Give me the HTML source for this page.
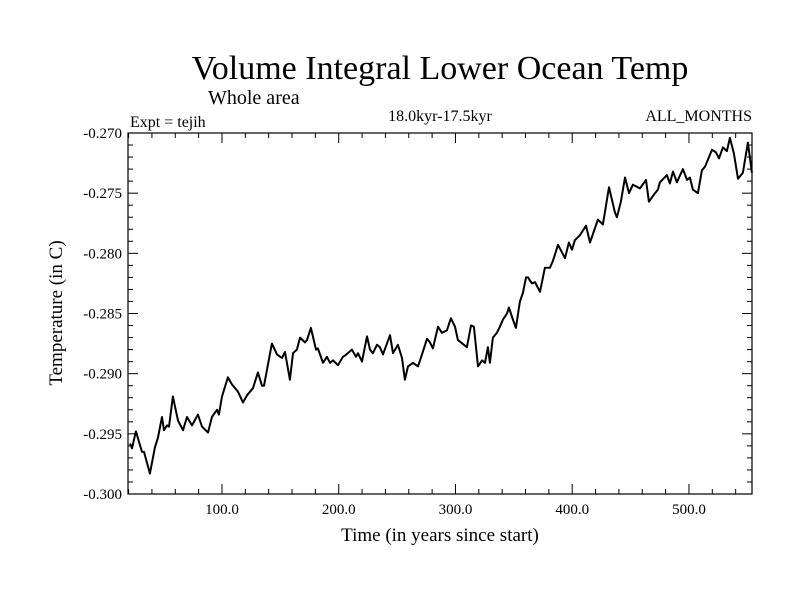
<!DOCTYPE html>
<html><head><meta charset="utf-8"><style>
html,body{margin:0;padding:0;background:#fff}
svg{display:block;font-family:"Liberation Serif",serif}
</style></head><body>
<svg id="chart" width="800" height="600" viewBox="0 0 800 600">
<text x="440" y="79" font-size="34" text-anchor="middle">Volume Integral Lower Ocean Temp</text>
<text x="208" y="104" font-size="20">Whole area</text>
<text x="130" y="127" font-size="16">Expt = tejih</text>
<text x="440" y="121" font-size="16" text-anchor="middle">18.0kyr-17.5kyr</text>
<text x="752" y="121" font-size="16" text-anchor="end">ALL_MONTHS</text>
<text x="440" y="541" font-size="19" text-anchor="middle">Time (in years since start)</text>
<text transform="translate(62,313) rotate(-90)" font-size="19" text-anchor="middle">Temperature (in C)</text>
<g id="axes"></g>
<rect x="128" y="133" width="624" height="361" fill="none" stroke="#000" stroke-width="1.2"/>
</svg>
<script>
const years=[21.2,22.9,26.3,31.5,33.2,38.3,42.6,45.2,48.6,50.3,52.9,54.6,58.0,62.3,66.6,70.0,74.3,79.4,82.9,88.0,91.4,95.7,97.4,100,105.1,108.6,113.7,118.0,121.4,126.6,130.8,134.3,136.0,142.8,147.1,151.4,154.0,158.2,160.8,164.2,166.8,171.1,172.8,176.2,180.5,182.2,186.5,189.9,192.5,195.1,199.4,203.6,205.3,211.3,214.8,216.5,219.9,224.2,226.8,229.3,232.8,235.3,237.9,243.9,246.5,250.7,254.2,256.7,259.3,263.6,267.9,271.3,275.6,278.2,280.7,285.0,288.4,292.7,296.1,299.6,302.1,309.8,313.3,315.8,319.3,322.7,325.3,327.8,329.5,332.1,335.5,338.1,340.7,344.1,345.8,349.2,351.8,355.2,357.8,360.4,362.1,365.5,368.1,372.4,376.6,380.9,383.5,387.8,393.8,397.2,399.8,402.3,406.6,411.8,415.2,422.0,426.3,431.5,436.6,438.3,441.7,445.2,448.6,452.0,458.0,463.2,465.7,470.9,473.4,475.1,481.1,483.7,486.3,489.7,494.8,498.3,500.8,503.4,507.7,511.1,513.7,519.7,523.1,525.7,529.1,532.5,535.1,538.5,542.0,546.2,550.5,553.9];
const temps=[-0.2958,-0.2962,-0.2948,-0.2965,-0.2965,-0.2983,-0.2961,-0.2953,-0.2936,-0.2947,-0.2943,-0.2944,-0.2919,-0.2939,-0.2947,-0.2936,-0.2943,-0.2934,-0.2944,-0.2949,-0.2936,-0.2930,-0.2934,-0.2919,-0.2903,-0.2909,-0.2915,-0.2924,-0.2918,-0.2912,-0.2899,-0.2910,-0.2910,-0.2875,-0.2884,-0.2887,-0.2882,-0.2905,-0.2883,-0.2880,-0.2870,-0.2874,-0.2872,-0.2862,-0.2880,-0.2879,-0.2891,-0.2886,-0.2891,-0.2889,-0.2893,-0.2886,-0.2885,-0.2880,-0.2886,-0.2883,-0.2890,-0.2869,-0.2880,-0.2883,-0.2876,-0.2878,-0.2884,-0.2868,-0.2883,-0.2876,-0.2887,-0.2905,-0.2894,-0.2891,-0.2894,-0.2884,-0.2871,-0.2874,-0.2879,-0.2861,-0.2866,-0.2864,-0.2854,-0.2861,-0.2872,-0.2878,-0.2860,-0.2861,-0.2894,-0.2889,-0.2891,-0.2878,-0.2891,-0.2870,-0.2866,-0.2861,-0.2855,-0.2850,-0.2845,-0.2855,-0.2862,-0.2840,-0.2833,-0.2820,-0.2820,-0.2825,-0.2824,-0.2832,-0.2812,-0.2812,-0.2806,-0.2793,-0.2804,-0.2791,-0.2797,-0.2789,-0.2785,-0.2777,-0.2791,-0.2772,-0.2776,-0.2745,-0.2766,-0.2770,-0.2757,-0.2737,-0.2750,-0.2743,-0.2746,-0.2739,-0.2757,-0.2750,-0.2747,-0.2741,-0.2735,-0.2742,-0.2732,-0.2741,-0.2730,-0.2739,-0.2737,-0.2747,-0.2750,-0.2731,-0.2728,-0.2714,-0.2716,-0.2721,-0.2712,-0.2715,-0.2704,-0.2717,-0.2738,-0.2733,-0.2708,-0.2733];
const xTickLabels=["100.0","200.0","300.0","400.0","500.0"];
const xTickValues=[100,200,300,400,500];
const yTickLabels=["-0.300","-0.295","-0.290","-0.285","-0.280","-0.275","-0.270"];
const yTickValues=[-0.300,-0.295,-0.290,-0.285,-0.280,-0.275,-0.270];

const X0=128,X1=752,Y0=494,Y1=133,XMIN=19.5,XMAX=554,YMIN=-0.300,YMAX=-0.270;
const sx=v=>X0+(v-XMIN)/(XMAX-XMIN)*(X1-X0);
const sy=v=>Y0-(v-YMIN)/(YMAX-YMIN)*(Y0-Y1);
const NS="http://www.w3.org/2000/svg";
const g=document.getElementById('axes');
function ln(x1,y1,x2,y2,name){const l=document.createElementNS(NS,'line');
l.setAttribute('x1',x1);l.setAttribute('y1',y1);l.setAttribute('x2',x2);l.setAttribute('y2',y2);
l.setAttribute('stroke','#000');l.setAttribute('stroke-width','1');


g.appendChild(l);}
for(let v=20;v<=XMAX;v+=20){const x=sx(v);const L=(v%100===0)?10:5;
ln(x,Y0,x,Y0-L,'x-tick');ln(x,Y1,x,Y1+L,'x-tick-top');}
for(let i=0;i<=30;i++){const v=YMIN+i*0.001;const y=sy(v);const L=(i%5===0)?10:5;
ln(X0,y,X0+L,y,'y-tick');ln(X1,y,X1-L,y,'y-tick-right');}
xTickValues.forEach((v,i)=>{const t=document.createElementNS(NS,'text');
t.setAttribute('x',sx(v));t.setAttribute('y',Y0+20);t.setAttribute('font-size','15');t.setAttribute('text-anchor','middle');
t.textContent=xTickLabels[i];


g.appendChild(t);});
yTickValues.forEach((v,i)=>{const t=document.createElementNS(NS,'text');
t.setAttribute('x',X0-6);t.setAttribute('y',sy(v)+5);t.setAttribute('font-size','15');t.setAttribute('text-anchor','end');
t.textContent=yTickLabels[i];


g.appendChild(t);});
const p=document.createElementNS(NS,'path');
p.setAttribute('d',years.map((v,i)=>(i?'L':'M')+sx(v).toFixed(1)+','+sy(temps[i]).toFixed(1)).join(''));
p.setAttribute('fill','none');p.setAttribute('stroke','#000');p.setAttribute('stroke-width','2');p.setAttribute('stroke-linejoin','round');


g.appendChild(p);
</script>
</body></html>
